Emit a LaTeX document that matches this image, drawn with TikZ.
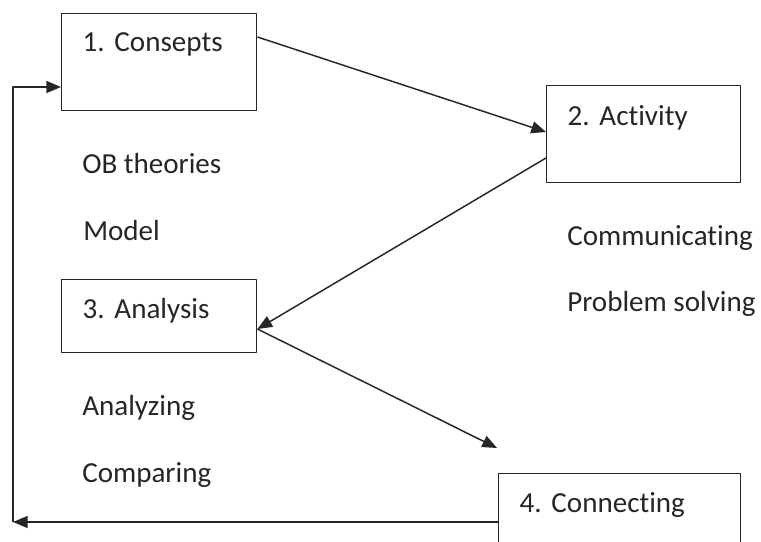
\documentclass[tikz,border=0pt]{standalone}
\usepackage{fontspec}
\setmainfont{Carlito}[Ligatures=NoCommon]
\frenchspacing
\usetikzlibrary{arrows.meta,calc}
\tikzset{
  stage/.style={draw, line width=1.1pt, anchor=north west, align=left,
    inner xsep=15.75pt, inner ysep=0pt, text height=28.5pt},
  note/.style={anchor=base west, inner sep=0pt},
  flow/.style={line width=1.1pt, -{Triangle[length=11pt,width=9pt]}}
}
\begin{document}
\begin{tikzpicture}[x=0.75pt,y=-0.75pt, font=\fontsize{21.8}{26}\selectfont, color=black!85, line join=round]
\clip (0,0) rectangle (761,542);
% boxes
\node[stage, text width=114.75pt, text depth=44.25pt] (concepts) at (61,13) {1. Consepts};
\node[stage, text width=114pt, text depth=42.75pt, text height=30pt] (activity) at (546,85) {2. Activity};
\node[stage, text width=114.75pt, text depth=25.5pt, text height=29.25pt] (analysis) at (61,279) {3. Analysis};
\node[stage, text width=150pt, text depth=50pt, text height=29.25pt] (connecting) at (498,473) {4. Connecting};
% notes
\node[note] (ob) at (82,173) {OB theories};
\node[note] (model) at (83,240) {Model};
\node[note] (comm) at (567,245) {Communicating};
\node[note] (prob) at (567,311) {Problem solving};
\node[note] (anal) at (82,415) {Analyzing};
\node[note] (comp) at (82,482) {Comparing};
% arrows
\coordinate (free) at (497,448);
\coordinate (corner) at (13,522);
\draw[flow] ($(concepts.north east)+(0,24)$) -- ($(activity.north west)+(0,47)$);
\draw[flow] ($(activity.north west)+(0,73)$) -- ($(analysis.north east)+(0,50)$);
\draw[flow] ($(analysis.north east)+(0,50)$) -- (free);
\draw[flow] ($(connecting.north west)+(0,49)$) -- (corner);
\draw[flow] (corner) |- ($(concepts.north west)+(0,74)$);
\end{tikzpicture}
\end{document}
